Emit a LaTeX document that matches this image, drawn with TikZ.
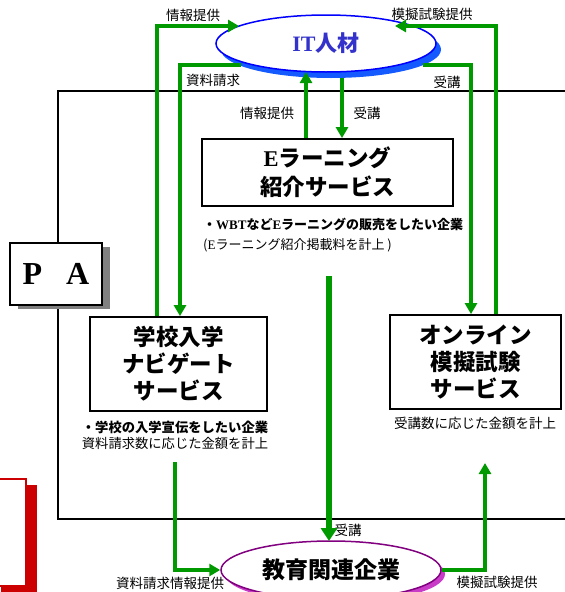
\documentclass[tikz,border=0pt]{standalone}
\usepackage{fontspec}
\setmainfont{Noto Sans CJK JP}
\newfontfamily\serifb{Liberation Serif}
\usetikzlibrary{shapes.geometric,arrows.meta,shadows}
\definecolor{gr}{RGB}{0,153,0}
\definecolor{itblue}{RGB}{0,0,255}
\definecolor{itshadow}{RGB}{20,90,255}
\definecolor{ittext}{RGB}{51,51,204}
\definecolor{edupurple}{RGB}{128,0,128}
\definecolor{edushadow}{RGB}{200,60,200}
\definecolor{redc}{RGB}{204,0,0}
\begin{document}
\begin{tikzpicture}[x=1pt,y=-1pt,
  gline/.style={draw=gr, line width=4pt},
  garrow/.style={gline, -{Triangle[length=11pt,width=12pt]}},
  lbl/.style={font=\fontsize{13.5}{15}\selectfont, inner sep=0},
  boxst/.style={draw=black, line width=1.8pt, fill=white, align=center, inner sep=0,
    font=\fontsize{22.5}{27}\selectfont\bfseries},
  ellst/.style={ellipse, fill=white, inner sep=0, line width=1.5pt}
]
\useasboundingbox (0,0) rectangle (565,592);
\clip (0,0) rectangle (565,592);

% frame
\draw[line width=1.3pt] (600,91) -- (58,91) -- (58,519) -- (600,519);

% red box (left edge)
\node[draw=redc, line width=1.2pt, fill=white, minimum width=36, minimum height=107, inner sep=0,
  drop shadow={shadow xshift=11pt, shadow yshift=-6pt, fill=redc, opacity=1}] (redbox) at (8,532.5) {};

% PA box
\node[draw=black, line width=1.5pt, fill=white, minimum width=92, minimum height=62, inner sep=0,
  drop shadow={shadow xshift=8pt, shadow yshift=-4pt, fill=black!50, opacity=1},
  font=\serifb\fontsize{32}{34}\selectfont\bfseries] (pa) at (56,274) {P\hspace{24pt}A};

% ellipses
\node[ellst, draw=itblue, minimum width=220, minimum height=57,
  drop shadow={shadow xshift=5pt, shadow yshift=-6pt, fill=itshadow, opacity=1},
  font=\fontsize{22}{24}\selectfont\bfseries, text=ittext] (it) at (326,43.5) {{\serifb IT}人材};
\node[ellst, draw=edupurple, minimum width=220, minimum height=58,
  drop shadow={shadow xshift=4pt, shadow yshift=-4pt, fill=edushadow, opacity=1},
  font=\fontsize{23}{25}\selectfont\bfseries] (edu) at (331,570) {教育関連企業};

% service boxes
\node[boxst, minimum width=251, minimum height=67, font=\fontsize{22.5}{29}\selectfont\bfseries]
  (elearn) at (327.5,172.5) {{\serifb E}ラーニング\\紹介サービス};
\node[boxst, minimum width=177, minimum height=94] (school) at (178.5,364) {学校入学\\ナビゲート\\サービス};
\node[boxst, minimum width=171, minimum height=94] (online) at (475.5,362) {オンライン\\模擬試験\\サービス};

% descriptions
\node[anchor=west, align=left, inner sep=0, font=\fontsize{13}{20}\selectfont] (edesc) at (203,235)
  {\textbf{・{\serifb WBT}など{\serifb E}ラーニングの販売をしたい企業}\\({\serifb E}ラーニング紹介掲載料を計上 )};
\node[align=center, inner sep=0, font=\fontsize{13.3}{15.5}\selectfont] (sdesc) at (175,435.5)
  {\textbf{・学校の入学宣伝をしたい企業}\\資料請求数に応じた金額を計上};
\node[lbl] (odesc) at (475,423) {受講数に応じた金額を計上};

% labels
\node[lbl] (l1) at (193,15) {情報提供};
\node[lbl] (l2) at (432,14) {模擬試験提供};
\node[lbl] (l3) at (213,80) {資料請求};
\node[lbl] (l4) at (447,82) {受講};
\node[lbl] (l5) at (267,113) {情報提供};
\node[lbl] (l6) at (367,113) {受講};
\node[lbl] (l7) at (348,530) {受講};
\node[lbl] (l8) at (170,583) {資料請求情報提供};
\node[lbl] (l9) at (497,582) {模擬試験提供};

% connector end points
\coordinate (a1) at (239,26);
\coordinate (a2) at (241,65);
\coordinate (a3) at (395,26);
\coordinate (a4) at (423,65);
\coordinate (a5) at (306,72);
\coordinate (a6) at (342,78);
\coordinate (c1) at (329,276);
\coordinate (c2) at (329,541);
\coordinate (b1) at (175,462);
\coordinate (b2) at (485,463);

% green connectors
\draw[garrow] ([xshift=-21.5pt]school.north) |- (a1);
\draw[garrow] (a2) -| ([xshift=1.5pt]school.north);
\draw[garrow] ([xshift=20.5pt]online.north) |- (a3);
\draw[garrow] (a4) -| ([xshift=-4.5pt]online.north);
\draw[garrow] ([xshift=-21.5pt]elearn.north) -- (a5);
\draw[garrow] (a6) -- ([xshift=14.5pt]elearn.north);
\draw[gline, line width=6pt, -{Triangle[length=13pt,width=16pt]}] (c1) -- (c2);
\draw[garrow] (b1) |- (edu.west);
\draw[garrow] (edu.east) -| (b2);
\end{tikzpicture}
\end{document}
